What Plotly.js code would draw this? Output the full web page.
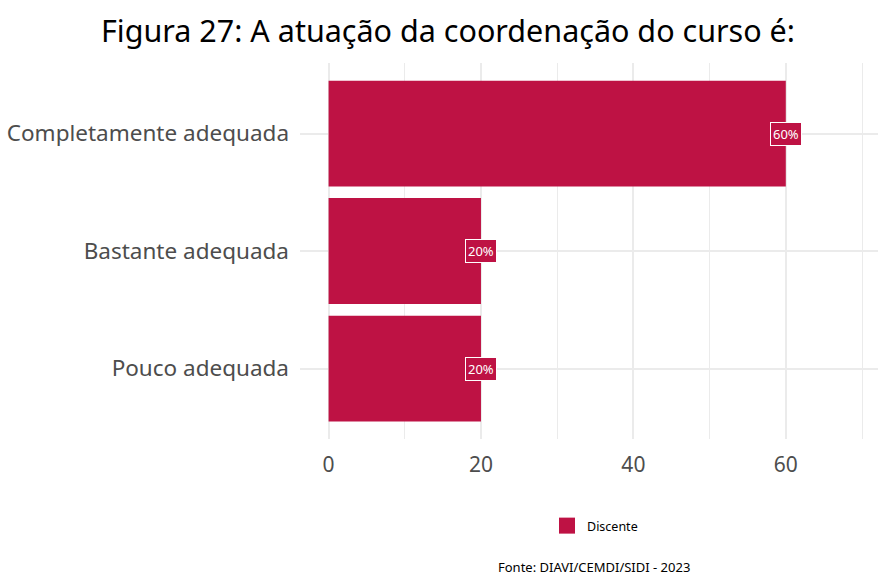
<!DOCTYPE html>
<html>
<head>
<meta charset="utf-8">
<script src="https://cdn.plot.ly/plotly-3.0.1.min.js"></script>
<style>html,body{margin:0;padding:0;background:#fff;}#chart{width:878px;height:577px;}</style>
</head>
<body>
<div id="chart"></div>
<script>
const categories = ["Pouco adequada", "Bastante adequada", "Completamente adequada"];
const values = [20, 20, 60];
const labels = ["20%", "20%", "60%"];
const seriesName = "Discente";
const titleText = "Figura 27: A atuação da coordenação do curso é:";
const captionText = "Fonte: DIAVI/CEMDI/SIDI - 2023";
const xTicks = [0, 20, 40, 60];

const barColor = "#BE1244";
const fontFam = "Noto Sans, Open Sans, sans-serif";

const M = {l: 300, r: 0, t: 63, b: 138};
const PW = 878 - M.l - M.r, PH = 577 - M.t - M.b;

const annotations = categories.map((c, i) => ({
  x: values[i], y: c, xref: "x", yref: "y",
  text: labels[i], showarrow: false,
  font: {family: fontFam, size: 13, color: "#ffffff"},
  bgcolor: barColor, bordercolor: "#ffffff", borderwidth: 1, borderpad: 2,
  xanchor: "center", yanchor: "middle"
}));
annotations.push({
  x: (594 - M.l) / PW, y: (577 - M.b - 567) / PH, xref: "paper", yref: "paper",
  text: captionText, showarrow: false,
  font: {family: fontFam, size: 13, color: "#000"}, xanchor: "center", yanchor: "middle"
});

const data = [{
  type: "bar", orientation: "h",
  x: values, y: categories, name: seriesName,
  marker: {color: barColor}, width: 0.9,
  hoverinfo: "skip", showlegend: false, legendgroup: "d"
}, {
  type: "scatter", mode: "markers", x: [null], y: [null], name: seriesName,
  marker: {color: barColor, symbol: "square", size: 20},
  showlegend: true, legendgroup: "d", hoverinfo: "skip"
}];

const layout = {
  width: 878, height: 577,
  margin: {l: M.l, r: M.r, t: M.t, b: M.b, pad: 0},
  paper_bgcolor: "#fff", plot_bgcolor: "#fff",
  title: {text: titleText, font: {family: fontFam, size: 30.5, color: "#000"},
          x: 448/878, xref: "container", xanchor: "center", y: 1 - 31/577, yanchor: "middle", yref: "container"},
  xaxis: {
    range: [-3.75, 72.1], tickvals: xTicks, ticktext: xTicks.map(String),
    showgrid: true, gridcolor: "#ebebeb", gridwidth: 2, zeroline: false,
    showline: false, ticks: "",
    tickfont: {family: fontFam, size: 21, color: "#4d4d4d"},
    minor: {tickvals: [10, 30, 50, 70], showgrid: true, gridcolor: "#ebebeb", gridwidth: 1},
    ticklabelstandoff: 11
  },
  yaxis: {
    range: [-0.6, 2.6], showgrid: true, gridcolor: "#ebebeb", gridwidth: 2,
    zeroline: false, showline: false, ticks: "",
    tickfont: {family: fontFam, size: 22.5, color: "#4d4d4d"},
    ticklabelstandoff: 10
  },
  showlegend: true,
  legend: {orientation: "h", x: (547 - M.l) / PW, xanchor: "left", y: (577 - M.b - 526) / PH, yanchor: "middle",
           font: {family: fontFam, size: 12.5, color: "#000"}, bgcolor: "rgba(0,0,0,0)"},
  annotations: annotations
};

Plotly.newPlot("chart", data, layout, {displayModeBar: false, staticPlot: true});
</script>
</body>
</html>
